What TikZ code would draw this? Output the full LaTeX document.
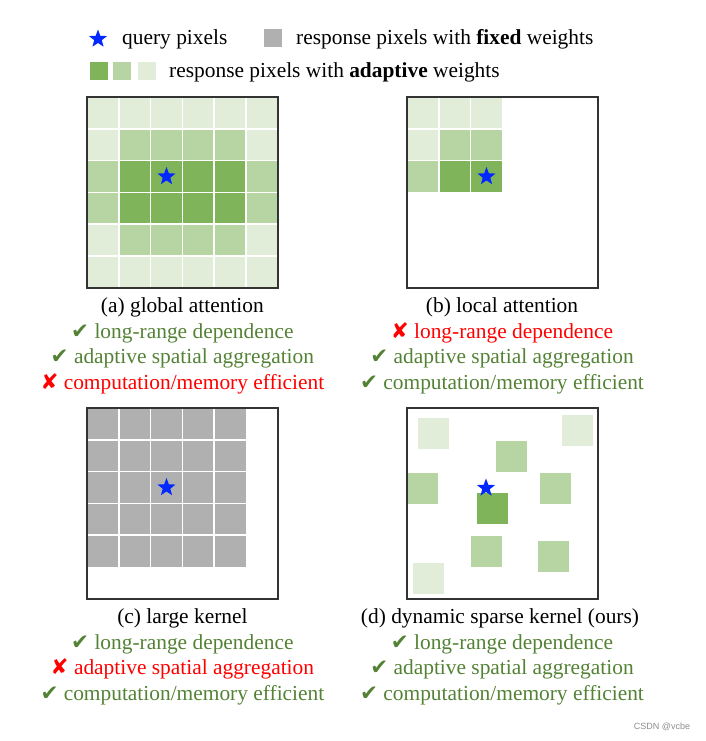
\documentclass[tikz,border=0pt]{standalone}
\usepackage{fontspec}
\setmainfont{Liberation Serif}
\newfontfamily\symfont{DejaVu Sans}
\newfontfamily\markfont{Liberation Sans}
\usepackage{xcolor}
\definecolor{GDark}{RGB}{127, 180, 90}
\definecolor{GMid}{RGB}{183, 213, 163}
\definecolor{GLight}{RGB}{226, 237, 217}
\definecolor{KGray}{RGB}{176, 176, 176}
\definecolor{QueryBlue}{RGB}{0, 40, 255}
\definecolor{OkGreen}{RGB}{84, 130, 53}
\definecolor{BadRed}{RGB}{255, 0, 0}
\usepackage{tikz}
\usetikzlibrary{shapes.geometric, positioning}

\newcommand{\yes}{{\symfont ✔}}
\newcommand{\no}{{\symfont ✘}}
\def\cs{31.8}

\begin{document}
\begin{tikzpicture}[x=1pt, y=-1pt,
  panel/.style={draw=black!80, line width=1.5pt},
  cell/.style={draw=white, line width=1.5pt},
  query/.style={star, star points=5, star point ratio=2.4, fill=QueryBlue,
    inner sep=0pt, minimum size=19pt},
  keybox/.style={rectangle, inner sep=0pt, minimum size=18pt},
  txt/.style={anchor=base, inner sep=0pt, font=\fontsize{21.4}{25}\selectfont},
  good/.style={txt, text=OkGreen},
  bad/.style={txt, text=BadRed}
]
  \useasboundingbox (0,0) rectangle (705,741);

  % legend
  \node[query] (kq) at (98,39) {};
  \node[txt, anchor=base west] (kqtext) at (122,45) {query pixels};
  \node[keybox, fill=KGray] (kfix) at (273,38.5) {};
  \node[txt, anchor=base west] (kfixtext) at (296,45) {response pixels with \textbf{fixed} weights};
  \node[keybox, fill=GDark]  (kdark)  at (99,71.5) {};
  \node[keybox, fill=GMid]   (kmid)   at (122,71.5) {};
  \node[keybox, fill=GLight] (klight) at (147,71.5) {};
  \node[txt, anchor=base west] (kadtext) at (169,78) {response pixels with \textbf{adaptive} weights};

  % (a) global attention
  \begin{scope}[shift={(87,97)}]
    \fill[GLight] (0,0) rectangle (6*\cs,6*\cs);
    \fill[GMid] (\cs,\cs) rectangle (5*\cs,5*\cs);
    \fill[GMid] (0,2*\cs) rectangle (6*\cs,4*\cs);
    \fill[GDark] (\cs,2*\cs) rectangle (5*\cs,4*\cs);
    \foreach \i in {1,...,5} {
      \draw[cell] (\i*\cs,0) -- (\i*\cs,6*\cs);
      \draw[cell] (0,\i*\cs) -- (6*\cs,\i*\cs);
    }
    \draw[panel] (0,0) rectangle (6*\cs,6*\cs);
    \node[query] (qa) at (2.5*\cs,2.5*\cs) {};
  \end{scope}

  % (b) local attention
  \begin{scope}[shift={(407,97)}]
    \fill[GLight] (0,0) rectangle (3*\cs,3*\cs);
    \fill[GMid] (\cs,\cs) rectangle (3*\cs,3*\cs);
    \fill[GMid] (0,2*\cs) rectangle (\cs,3*\cs);
    \fill[GDark] (\cs,2*\cs) rectangle (3*\cs,3*\cs);
    \foreach \i in {1,2} {
      \draw[cell] (\i*\cs,0) -- (\i*\cs,3*\cs);
      \draw[cell] (0,\i*\cs) -- (3*\cs,\i*\cs);
    }
    \draw[panel] (0,0) rectangle (6*\cs,6*\cs);
    \node[query] (qb) at (2.5*\cs,2.5*\cs) {};
  \end{scope}

  % (c) large kernel
  \begin{scope}[shift={(87,408)}]
    \fill[KGray] (0,0) rectangle (5*\cs,5*\cs);
    \foreach \i in {1,...,4} {
      \draw[cell] (\i*\cs,0) -- (\i*\cs,5*\cs);
      \draw[cell] (0,\i*\cs) -- (5*\cs,\i*\cs);
    }
    \draw[panel] (0,0) rectangle (6*\cs,6*\cs);
    \node[query] (qc) at (2.5*\cs,2.5*\cs) {};
  \end{scope}

  % (d) dynamic sparse kernel
  \begin{scope}[shift={(407,408)}]
    \foreach \x/\y/\c in {11/10/GLight, 155/7/GLight, 89/33/GMid, 0/65/GMid,
        133/65/GMid, 70/85/GDark, 64/128/GMid, 131/133/GMid, 6/155/GLight}
      \fill[\c] (\x,\y) rectangle ++(30.5,30.5);
    \draw[panel] (0,0) rectangle (6*\cs,6*\cs);
    \node[query] (qd) at (79,80) {};
  \end{scope}

  % captions
  \node[txt]  (capa) at (182.4,312) {(a) global attention};
  \node[good] (a1)   at (182.4,338) {\yes{} long-range dependence};
  \node[good] (a2)   at (182.4,363.5) {\yes{} adaptive spatial aggregation};
  \node[bad]  (a3)   at (182.4,389) {\no{} computation/memory efficient};

  \node[txt]  (capb) at (502,312) {(b) local attention};
  \node[bad]  (b1)   at (502,338) {\no{} long-range dependence};
  \node[good] (b2)   at (502,363.5) {\yes{} adaptive spatial aggregation};
  \node[good] (b3)   at (502,389) {\yes{} computation/memory efficient};

  \node[txt]  (capc) at (182.4,623) {(c) large kernel};
  \node[good] (c1)   at (182.4,649) {\yes{} long-range dependence};
  \node[bad]  (c2)   at (182.4,674.5) {\no{} adaptive spatial aggregation};
  \node[good] (c3)   at (182.4,700) {\yes{} computation/memory efficient};

  \node[txt]  (capd) at (500,623) {(d) dynamic sparse kernel (ours)};
  \node[good] (d1)   at (502,649) {\yes{} long-range dependence};
  \node[good] (d2)   at (502,674.5) {\yes{} adaptive spatial aggregation};
  \node[good] (d3)   at (502,700) {\yes{} computation/memory efficient};

  \node[font=\markfont\fontsize{9}{10}\selectfont, text=black!45] (mark) at (662,727) {CSDN @vcbe};
\end{tikzpicture}
\end{document}
